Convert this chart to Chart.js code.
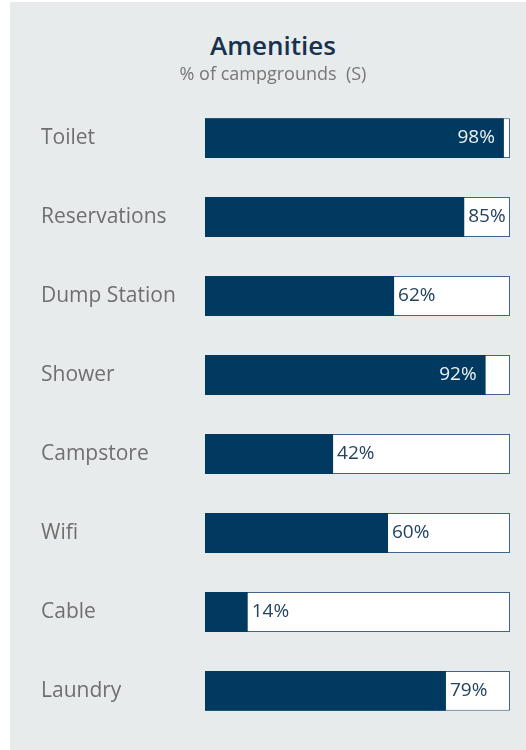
<!DOCTYPE html>
<html>
<head>
<meta charset="utf-8">
<script src="https://cdn.jsdelivr.net/npm/chart.js@4"></script>
<style>
  body { margin: 0; background: #fff; font-family: "Open Sans", "Noto Sans", sans-serif; }
  #panel { position: absolute; left: 10px; top: 2px; width: 516px; height: 748px; background: #e8ebec; }
  #title { position: absolute; left: 10px; width: 526px; top: 27px; text-align: center; font-size: 26px; font-weight: 600; color: #17324d; }
  #subtitle { position: absolute; left: 10px; width: 526px; top: 61px; text-align: center; font-size: 18px; color: #767676; }
  #wrap { position: absolute; left: 0; top: 81px; width: 516px; height: 663px; }
</style>
</head>
<body>
<div id="panel">
  <div id="wrap"><canvas id="chart"></canvas></div>
</div>
<div id="title">Amenities</div>
<div id="subtitle">% of campgrounds&nbsp; (S)</div>

<script>
const amenities = ['Toilet', 'Reservations', 'Dump Station', 'Shower', 'Campstore', 'Wifi', 'Cable', 'Laundry'];
const pctValues = [98, 85, 62, 92, 42, 60, 14, 79];
const trackValues = [100, 100, 100, 100, 100, 100, 100, 100];

const NAVY = '#003a61';

// value labels: white inside the bar when there's no room after it
const valueLabels = {
  id: 'valueLabels',
  afterDatasetsDraw(chart) {
    const ctx = chart.ctx;
    const meta = chart.getDatasetMeta(0);
    const xMax = chart.scales.x.right;
    ctx.save();
    ctx.font = '19px "Open Sans", "Noto Sans", sans-serif';
    ctx.textBaseline = 'middle';
    meta.data.forEach((bar, i) => {
      const txt = pctValues[i] + '%';
      const w = ctx.measureText(txt).width;
      if (bar.x + w + 6 > xMax) {
        ctx.fillStyle = '#eef2f5';
        ctx.textAlign = 'right';
        ctx.fillText(txt, bar.x - 9, bar.y);
      } else {
        ctx.fillStyle = '#23435f';
        ctx.textAlign = 'left';
        ctx.fillText(txt, bar.x + 4, bar.y);
      }
    });
    ctx.restore();
  }
};

new Chart(document.getElementById('chart'), {
  type: 'bar',
  data: {
    labels: amenities,
    datasets: [
      {
        data: pctValues,
        backgroundColor: NAVY,
        borderWidth: 0,
        grouped: false,
        order: 0,
        barPercentage: 0.505,
        categoryPercentage: 1,
      },
      {
        data: trackValues,
        backgroundColor: '#ffffff',
        borderColor: '#3f668a',
        borderWidth: 1,
        borderSkipped: false,
        grouped: false,
        order: 1,
        barPercentage: 0.505,
        categoryPercentage: 1,
      },
    ],
  },
  options: {
    indexAxis: 'y',
    responsive: true,
    maintainAspectRatio: false,
    animation: false,
    layout: { padding: { left: 31, right: 16, top: 0, bottom: 0 } },
    plugins: { legend: { display: false }, tooltip: { enabled: false } },
    scales: {
      x: { min: 0, max: 100, display: false },
      y: {
        grid: { display: false },
        border: { display: false },
        ticks: {
          crossAlign: 'far',
          color: '#6f6f6f',
          font: { family: '"Open Sans", "Noto Sans", sans-serif', size: 21 },
        },
        afterFit(scale) { scale.width = 164; },
      },
    },
  },
  plugins: [valueLabels],
});
</script>
</body>
</html>
